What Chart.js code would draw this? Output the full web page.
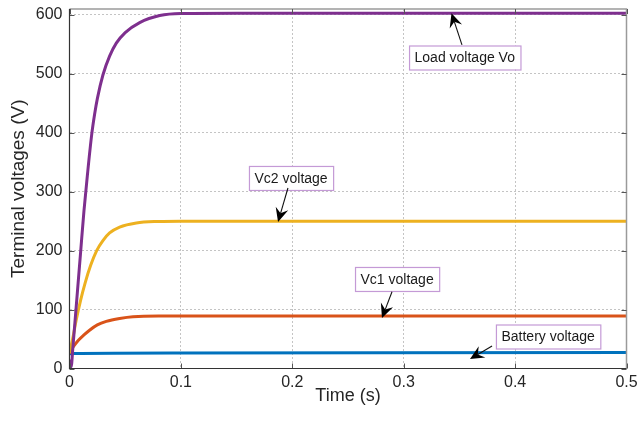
<!DOCTYPE html>
<html>
<head>
<meta charset="utf-8">
<script src="https://cdn.jsdelivr.net/npm/chart.js@4.4.1/dist/chart.umd.min.js"></script>
<style>
  html, body { margin: 0; padding: 0; background: #fff; }
  #wrap { width: 639px; height: 425px; position: relative; }
</style>
</head>
<body>
<div id="wrap"><canvas id="voltChart" width="639" height="425"></canvas></div>
<script>
// ---------- DATA ----------
const xTicks = [0, 0.1, 0.2, 0.3, 0.4, 0.5];
const yTicks = [0, 100, 200, 300, 400, 500, 600];

// load voltage Vo
const loadT = [0, 0.0015, 0.003, 0.0065, 0.010, 0.013, 0.016, 0.020, 0.0225, 0.025, 0.030, 0.036, 0.042, 0.05, 0.063, 0.081, 0.1, 0.15, 0.5];
const loadV = [15, 3, 35, 116, 198, 268, 327, 398, 431, 458, 498, 530, 552, 570, 587, 599, 602.5, 603, 603];

// capacitor C2
const vc2T = [0, 0.003, 0.006, 0.010, 0.014, 0.019, 0.0244, 0.03, 0.036, 0.045, 0.06, 0.08, 0.1, 0.5];
const vc2V = [26, 52, 82, 116, 145, 175, 200, 217, 230, 240, 247, 249.5, 250, 250];

// capacitor C1
const vc1T = [0, 0.002, 0.005, 0.008, 0.013, 0.018, 0.025, 0.033, 0.045, 0.057, 0.08, 0.1, 0.5];
const vc1V = [26, 33, 41, 48, 57, 65, 74, 80, 85, 88, 89, 89, 89];

// battery
const batT = [0, 0.002, 0.1, 0.5];
const batV = [25, 25.5, 26.5, 27];

// text callouts: box left edge / vertical centre and arrow tail -> tip, in axis units
const notes = [
  { text: 'Load voltage Vo', boxX: 0.3048, boxY: 527.7, tail: [0.3523, 549], tip: [0.3429, 603] },
  { text: 'Vc2 voltage', boxX: 0.1611, boxY: 323.3, tail: [0.1961, 306.3], tip: [0.1872, 248.6] },
  { text: 'Vc1 voltage', boxX: 0.2563, boxY: 151.9, tail: [0.2895, 130.3], tip: [0.2805, 85.7] },
  { text: 'Battery voltage', boxX: 0.3828, boxY: 54.3, tail: [0.3793, 38.2], tip: [0.3595, 16.1] }
];

const FONT = "'Liberation Sans', Arial, sans-serif";

function pts(ts, vs) {
  return ts.map((t, i) => ({ x: t, y: vs[i] }));
}

function series(label, ts, vs, color) {
  return {
    label: label,
    data: pts(ts, vs),
    borderColor: color,
    backgroundColor: color,
    borderWidth: 3,
    pointRadius: 0,
    cubicInterpolationMode: 'monotone',
    fill: false
  };
}

// ---------- FRAME: top/right box edges + inward ticks ----------
const framePlugin = {
  id: 'frame',
  afterDatasetsDraw(chart) {
    const { ctx, chartArea: a, scales } = chart;
    ctx.save();
    ctx.strokeStyle = '#9a9a9a';
    ctx.lineWidth = 1.5;
    ctx.beginPath();
    ctx.moveTo(a.left, a.top);
    ctx.lineTo(a.right, a.top);
    ctx.lineTo(a.right, a.bottom);
    ctx.stroke();

    ctx.strokeStyle = '#555';
    ctx.lineWidth = 1;
    ctx.beginPath();
    xTicks.forEach(v => {
      const x = Math.round(scales.x.getPixelForValue(v)) + 0.5;
      ctx.moveTo(x, a.bottom); ctx.lineTo(x, a.bottom - 5);
      ctx.moveTo(x, a.top); ctx.lineTo(x, a.top + 5);
    });
    yTicks.forEach(v => {
      const y = Math.round(scales.y.getPixelForValue(v)) + 0.5;
      ctx.moveTo(a.left, y); ctx.lineTo(a.left + 5, y);
      ctx.moveTo(a.right, y); ctx.lineTo(a.right - 5, y);
    });
    ctx.stroke();

    ctx.strokeStyle = '#333';
    ctx.lineWidth = 1.2;
    ctx.beginPath();
    ctx.moveTo(a.left, a.top);
    ctx.lineTo(a.left, a.bottom);
    ctx.lineTo(a.right, a.bottom);
    ctx.stroke();
    ctx.restore();
  }
};

// ---------- CALLOUTS ----------
function arrow(ctx, x0, y0, x1, y1) {
  const ang = Math.atan2(y1 - y0, x1 - x0);
  const c = Math.cos(ang), s = Math.sin(ang);
  const len = 14, half = 6.5, back = 9;
  ctx.beginPath();
  ctx.moveTo(x0, y0);
  ctx.lineTo(x1 - back * c, y1 - back * s);
  ctx.stroke();
  const bx = x1 - len * c, by = y1 - len * s;
  ctx.beginPath();
  ctx.moveTo(x1, y1);
  ctx.lineTo(bx - s * half, by + c * half);
  ctx.lineTo(x1 - back * c, y1 - back * s);
  ctx.lineTo(bx + s * half, by - c * half);
  ctx.closePath();
  ctx.fill();
}

const calloutPlugin = {
  id: 'callouts',
  afterDraw(chart) {
    const { ctx, scales } = chart;
    ctx.save();
    ctx.font = '14px ' + FONT;
    ctx.textBaseline = 'middle';
    notes.forEach(n => {
      const x = scales.x.getPixelForValue(n.boxX);
      const y = scales.y.getPixelForValue(n.boxY);
      const w = ctx.measureText(n.text).width + 11;
      const h = 24;
      ctx.fillStyle = '#fff';
      ctx.fillRect(x, y - h / 2, w, h);
      ctx.strokeStyle = '#c49ad6';
      ctx.lineWidth = 1.2;
      ctx.strokeRect(x + 0.5, y - h / 2 + 0.5, w, h);
      ctx.fillStyle = '#1a1a1a';
      ctx.fillText(n.text, x + 5.5, y + 1);

      ctx.strokeStyle = '#111';
      ctx.fillStyle = '#000';
      ctx.lineWidth = 1.1;
      arrow(ctx,
        scales.x.getPixelForValue(n.tail[0]), scales.y.getPixelForValue(n.tail[1]),
        scales.x.getPixelForValue(n.tip[0]), scales.y.getPixelForValue(n.tip[1]));
    });
    ctx.restore();
  }
};

// ---------- CHART ----------
const gridStyle = {
  color: '#c4c4c4',
  lineWidth: 1,
  drawTicks: false
};

new Chart(document.getElementById('voltChart'), {
  type: 'line',
  data: {
    datasets: [
      series('Load voltage Vo', loadT, loadV, '#7E2F8E'),
      series('Vc2 voltage', vc2T, vc2V, '#EDB120'),
      series('Vc1 voltage', vc1T, vc1V, '#D95319'),
      series('Battery voltage', batT, batV, '#0072BD')
    ]
  },
  options: {
    responsive: false,
    animation: false,
    layout: { padding: { left: 0, right: 12.5, top: 9, bottom: 0 } },
    plugins: { legend: { display: false }, tooltip: { enabled: false } },
    scales: {
      x: {
        type: 'linear',
        min: 0,
        max: 0.5,
        afterBuildTicks: s => { s.ticks = xTicks.map(v => ({ value: v })); },
        afterFit: s => { s.height = 56.5; s.paddingLeft = 0; s.paddingRight = 0; },
        ticks: {
          color: '#262626',
          font: { family: FONT, size: 16 },
          padding: 4,
          maxRotation: 0,
          callback: v => String(v)
        },
        grid: gridStyle,
        border: { display: false, dash: [2, 2] },
        title: {
          display: true,
          text: 'Time (s)',
          color: '#262626',
          font: { family: FONT, size: 18 },
          padding: { top: 0, bottom: 18 }
        }
      },
      y: {
        min: 0,
        max: 610,
        afterBuildTicks: s => { s.ticks = yTicks.map(v => ({ value: v })); },
        afterFit: s => { s.width = 69.5; s.paddingTop = 0; s.paddingBottom = 0; },
        ticks: {
          color: '#262626',
          font: { family: FONT, size: 16 },
          padding: 7
        },
        grid: gridStyle,
        border: { display: false, dash: [2, 2] },
        title: {
          display: true,
          text: 'Terminal voltages (V)',
          color: '#262626',
          font: { family: FONT, size: 19 },
          padding: { top: 7, bottom: 0 }
        }
      }
    }
  },
  plugins: [framePlugin, calloutPlugin]
});
</script>
</body>
</html>
